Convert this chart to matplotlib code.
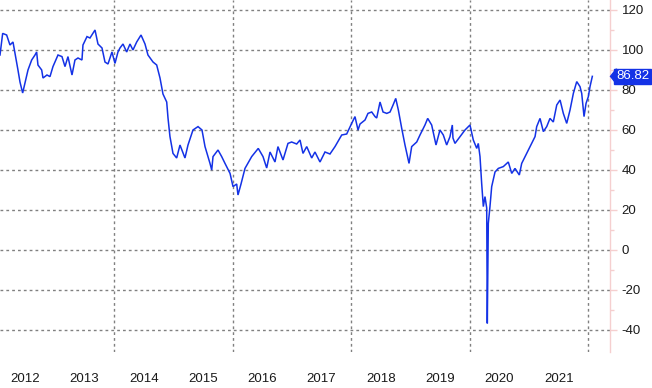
import matplotlib
matplotlib.use("Agg")
import matplotlib.pyplot as plt
from matplotlib.ticker import FixedLocator, NullFormatter
from matplotlib.patches import Polygon

# Time positions (decimal years) and WTI price values
t = [2012.078, 2012.123, 2012.190, 2012.246, 2012.297, 2012.330, 2012.381, 2012.415,
     2012.460, 2012.499, 2012.550, 2012.612, 2012.668, 2012.696, 2012.718, 2012.781,
     2012.803, 2012.870, 2012.921, 2012.971, 2013.056, 2013.123, 2013.174, 2013.224,
     2013.292, 2013.342, 2013.393, 2013.460, 2013.477, 2013.545, 2013.595, 2013.680,
     2013.730, 2013.798, 2013.848, 2013.899, 2013.966, 2014.017, 2014.067,
     2014.101, 2014.152, 2014.214, 2014.270, 2014.320, 2014.383, 2014.456, 2014.523,
     2014.573, 2014.658, 2014.720, 2014.776, 2014.826, 2014.889, 2014.911, 2014.944,
     2014.995, 2015.057, 2015.113, 2015.197, 2015.248, 2015.332, 2015.417, 2015.484,
     2015.535, 2015.619, 2015.648, 2015.670, 2015.754, 2015.816, 2015.872, 2015.957,
     2016.007, 2016.069, 2016.091, 2016.142,
     2016.209, 2016.322, 2016.433, 2016.513, 2016.575, 2016.631, 2016.715, 2016.765,
     2016.850, 2016.934, 2016.996, 2017.081, 2017.137, 2017.187, 2017.250, 2017.334,
     2017.389, 2017.474, 2017.558, 2017.642, 2017.727, 2017.840, 2017.924, 2018.008,
     2018.064, 2018.115, 2018.149,
     2018.233, 2018.283, 2018.346, 2018.402, 2018.430, 2018.486, 2018.537, 2018.600,
     2018.655, 2018.706, 2018.751, 2018.795, 2018.852, 2018.907, 2018.975, 2019.020,
     2019.105, 2019.160, 2019.244, 2019.290, 2019.357, 2019.430, 2019.497, 2019.553,
     2019.610, 2019.666, 2019.705, 2019.716, 2019.750, 2019.835, 2019.919, 2020.003,
     2020.059, 2020.117, 2020.143, 2020.172, 2020.200, 2020.228, 2020.256, 2020.285,
     2020.295, 2020.312, 2020.340, 2020.369, 2020.425, 2020.481, 2020.565, 2020.649,
     2020.707, 2020.762, 2020.835, 2020.875, 2020.959, 2021.044, 2021.100, 2021.128,
     2021.184, 2021.240, 2021.297, 2021.352, 2021.408, 2021.466, 2021.522, 2021.577,
     2021.634, 2021.690, 2021.746, 2021.803, 2021.858, 2021.887, 2021.926, 2021.960,
     2021.999, 2022.027, 2022.066]

price = [97.5, 108.3, 107.5, 102.5, 104.0, 98.5, 90.0, 84.0,
         78.5, 83.5, 90.0, 95.0, 97.5, 99.0, 92.5, 90.0,
         86.0, 87.5, 86.7, 91.7, 97.5, 96.7, 91.7, 96.7,
         87.5, 95.0, 96.0, 95.0, 102.5, 106.7, 106.0, 110.0,
         103.0, 101.0, 94.0, 93.0, 99.0, 93.3, 99.0,
         101.0, 103.0, 99.0, 103.0, 100.0, 104.0, 107.5, 103.0,
         97.5, 94.0, 92.5, 86.0, 78.0, 74.0, 66.0, 56.7,
         48.3, 46.0, 52.5, 46.0, 52.5, 60.0, 61.7, 60.0,
         51.7, 43.3, 40.0, 46.7, 50.0, 46.7, 43.3, 38.3,
         31.7, 33.0, 27.5, 33.0,
         40.8, 46.7, 50.8, 46.7, 41.0, 49.0, 44.0, 51.7,
         45.0, 53.3, 54.0, 53.0, 55.0, 48.3, 51.7, 46.0,
         49.0, 44.0, 49.0, 48.0, 51.7, 57.5, 58.0, 63.3,
         66.7, 60.0, 63.0,
         65.0, 68.3, 69.0, 66.7, 66.0, 74.0, 69.0, 68.3,
         69.0, 72.5, 75.8, 70.0, 60.8, 52.5, 43.3, 51.7,
         54.0, 57.5, 62.5, 65.8, 62.5, 52.5, 60.0, 57.5,
         52.5, 56.7, 62.5, 56.0, 53.3, 56.7, 60.0, 62.5,
         55.0, 50.8, 53.3, 46.7, 33.3, 21.7, 26.7, 21.0,
         -36.7, 13.3, 21.7, 31.7, 39.0, 40.8, 41.7, 44.0,
         38.3, 40.8, 37.5, 43.3, 48.3, 53.3, 56.7, 61.7,
         65.8, 59.2, 61.7, 65.8, 64.0, 72.5, 75.0, 68.3,
         63.3, 70.0, 78.3, 84.2, 81.7, 78.3, 66.7, 73.3,
         76.7, 81.7, 86.82]

year_labels = ["2012", "2013", "2014", "2015", "2016", "2017", "2018", "2019", "2020", "2021"]
y_ticks = [-40, -20, 0, 20, 40, 60, 80, 100, 120]
grid_years = [2014, 2016, 2018, 2020, 2022]
last_label = "86.82"

LINE = "#1432E6"
PINK = "#F5CFCF"
FONT = "Liberation Sans"

fig = plt.figure(figsize=(6.52, 3.88), dpi=100)
ax = fig.add_axes([0, 36 / 388, 610 / 652, 352 / 388])

ax.plot(t, price, color=LINE, lw=1.1, solid_joinstyle="miter")

ax.set_xlim(2012.078, 2022.364)
ax.set_ylim(-51, 125)

# grid lines
for yv in y_ticks:
    ax.axhline(yv, color="#808080", lw=1.0, ls=(0, (2, 2.2)), zorder=0)
for gx in grid_years:
    ax.axvline(gx, color="#808080", lw=1.0, ls=(0, (2, 2.2)), zorder=0)

# y axis on right
ax.yaxis.tick_right()
ax.yaxis.set_major_locator(FixedLocator(y_ticks))
ax.yaxis.set_minor_locator(FixedLocator([v + 10 for v in y_ticks[:-1]]))
ax.set_yticklabels([str(v) for v in y_ticks], fontsize=9.5, fontfamily=FONT, color="#1a1a1a")
ax.tick_params(axis="y", which="major", length=5, width=1, color=PINK, pad=3.5)
ax.tick_params(axis="y", which="minor", length=3, width=1, color=PINK)

# x axis labels at mid-year
ax.xaxis.set_major_locator(FixedLocator(grid_years))
ax.xaxis.set_major_formatter(NullFormatter())
ax.xaxis.set_minor_locator(FixedLocator([int(y) + 0.5 for y in year_labels]))
ax.set_xticklabels(year_labels, minor=True, fontsize=9.5, fontfamily=FONT, color="#1a1a1a")
ax.tick_params(axis="x", which="both", length=0, pad=15)

for s in ["left", "top", "bottom"]:
    ax.spines[s].set_visible(False)
ax.spines["right"].set_color(PINK)
ax.spines["right"].set_linewidth(1.0)

# last value tag
last_val = price[-1]
trans = ax.get_yaxis_transform()
ax.annotate(last_label, xy=(1.0, last_val), xycoords=trans,
            xytext=(6, 0), textcoords="offset pixels",
            ha="left", va="center", fontsize=9.5, fontfamily=FONT, color="white",
            bbox=dict(boxstyle="square,pad=0.12", fc=LINE, ec=LINE),
            annotation_clip=False, zorder=10)
# arrow tip
fig.canvas.draw()
disp = trans.transform((1.0, last_val))
tri = Polygon([(disp[0] + 0.5, disp[1]), (disp[0] + 6.5, disp[1] + 7.5), (disp[0] + 6.5, disp[1] - 7.5)],
              closed=True, transform=None, fc=LINE, ec=LINE, zorder=10)
fig.patches.append(tri)

fig.savefig("out.png", dpi=100, facecolor="white")
